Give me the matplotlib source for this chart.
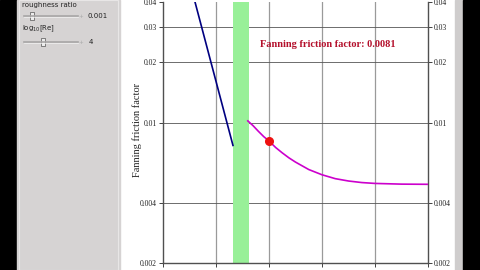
import matplotlib
matplotlib.use("Agg")
import matplotlib.pyplot as plt
from matplotlib.patches import Rectangle

# ---- data ----
log_re_ticks = [2, 3, 4, 5, 6, 7]
x_tick_labels = [r"$10^{2}$", r"$10^{3}$", r"$10^{4}$", r"$10^{5}$", r"$10^{6}$", r"$10^{7}$"]
f_ticks = [0.002, 0.004, 0.01, 0.02, 0.03, 0.04]
f_tick_labels = ["0.002", "0.004", "0.01", "0.02", "0.03", "0.04"]

log_re_laminar = [2.5, 3.32]
f_laminar = [0.0506, 0.0077]

log_re_turbulent = [3.6, 3.7, 3.8, 3.9, 4.0, 4.125, 4.25, 4.375, 4.5, 4.75,
                    5.0, 5.25, 5.5, 5.75, 6.0, 6.5, 7.0]
f_turbulent = [0.0102, 0.00965, 0.00905, 0.00852, 0.0081, 0.00752, 0.00707,
               0.00668, 0.00636, 0.00584, 0.0055, 0.00526, 0.00512, 0.00503,
               0.00498, 0.00494, 0.00493]

transition = [3.32, 3.62]
current_log_re = 4
current_f = 0.0081
roughness = "0.001"

W, H = 480, 270
fig = plt.figure(figsize=(4.8, 2.7), dpi=100)

# ---- background / control panel overlay ----
bg = fig.add_axes([0, 0, 1, 1], zorder=-5)
bg.set_xlim(0, W)
bg.set_ylim(H, 0)
bg.axis("off")
bg.add_patch(Rectangle((0, 0), W, H, color="white"))
bg.add_patch(Rectangle((0, 0), 17, H, color="black"))
bg.add_patch(Rectangle((17, 0), 103, H, color="#d6d3d3"))
bg.add_patch(Rectangle((19, 0), 99, H, facecolor="none", edgecolor="#e8e6e6", lw=0.8))
bg.add_patch(Rectangle((455, 0), 8, H, color="#cfcdcd"))
bg.add_patch(Rectangle((463, 0), 17, H, color="black"))

ctrl_font = dict(family="DejaVu Sans", fontsize=5, color="#222222")
bg.text(22, 5, "roughness ratio", va="center", ha="left", **ctrl_font)
bg.plot([24, 78], [16, 16], color="#a8a6a6", lw=1.2)
bg.plot([24, 78], [16.8, 16.8], color="#f4f4f4", lw=0.5)
bg.add_patch(Rectangle((29.5, 12), 4, 8, facecolor="#ececec", edgecolor="#555555", lw=0.5))
bg.text(81, 16, "+", va="center", ha="center", fontsize=4, color="#aaaaaa")
bg.text(88, 16, roughness, va="center", ha="left", **ctrl_font)

bg.text(22, 29, r"log$_{10}$[Re]", va="center", ha="left", **ctrl_font)
bg.plot([24, 78], [42, 42], color="#a8a6a6", lw=1.2)
bg.plot([24, 78], [42.8, 42.8], color="#f4f4f4", lw=0.5)
bg.add_patch(Rectangle((41, 38), 4, 8, facecolor="#ececec", edgecolor="#555555", lw=0.5))
bg.text(81, 42, "+", va="center", ha="center", fontsize=4, color="#aaaaaa")
bg.text(89, 42, str(current_log_re), va="center", ha="left", **ctrl_font)

# ---- main plot ----
left_px, right_px, top_px, bottom_px = 163, 428, 1.7, 263
ax = fig.add_axes([left_px / W, (H - bottom_px) / H,
                   (right_px - left_px) / W, (bottom_px - top_px) / H])
ax.set_facecolor("none")
ax.set_yscale("log")
ax.set_xlim(log_re_ticks[0], log_re_ticks[-1])
ax.set_ylim(f_ticks[0], f_ticks[-1])

for x in log_re_ticks[1:-1]:
    ax.axvline(x, color="#9a9a9a", lw=0.9, zorder=1)
for y in f_ticks[1:-1]:
    ax.axhline(y, color="#555555", lw=0.6, zorder=1)

ax.axvspan(transition[0], transition[1], color="#98f098", lw=0, zorder=2)

ax.plot(log_re_laminar, f_laminar, color="#000080", lw=1.2, zorder=3)
ax.plot(log_re_turbulent, f_turbulent, color="#cc00cc", lw=1.2, zorder=3)
ax.plot([current_log_re], [current_f], "o", color="#ee1111", ms=5.5, mec="#ee1111", zorder=4)

ax.text(0.365, 0.838, f"Fanning friction factor: {current_f}", transform=ax.transAxes,
        family="Liberation Serif", fontweight="bold", fontsize=7.5, color="#b4102c",
        ha="left", va="center")

ax.set_yticks(f_ticks)
ax.set_yticklabels(f_tick_labels)
ax.yaxis.set_minor_locator(matplotlib.ticker.NullLocator())
ax.tick_params(axis="y", which="both", direction="out", length=3, width=0.6,
               labelsize=5.5, pad=1.5, left=True, right=True,
               labelleft=True, labelright=True, colors="#222222")
for lab in ax.get_yticklabels():
    lab.set_family("Liberation Serif")

ax.set_xticks(log_re_ticks)
ax.set_xticklabels(x_tick_labels)
ax.tick_params(axis="x", direction="out", length=3, width=0.6, labelsize=6,
               pad=2, colors="#222222")

for s in ["left", "right", "bottom"]:
    ax.spines[s].set_color("#505050")
    ax.spines[s].set_linewidth(1.0)
ax.spines["top"].set_visible(False)

fig.text(137 / W, 1 - 130 / H, "Fanning friction factor", rotation=90,
         family="Liberation Serif", fontsize=7.5, color="#222222",
         ha="center", va="center")

fig.savefig("out.png", dpi=100)
